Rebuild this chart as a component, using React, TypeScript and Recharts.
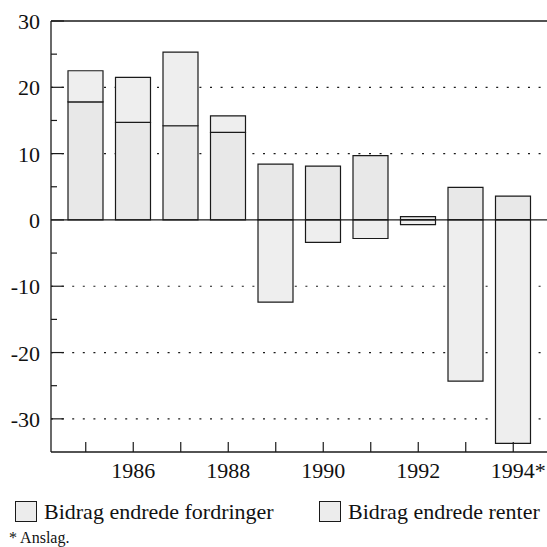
import { BarChart, Bar, XAxis, YAxis, CartesianGrid, ReferenceLine } from "recharts";

const YEARS = ["1985", "1986", "1987", "1988", "1989", "1990", "1991", "1992", "1993", "1994"];
const FORDRINGER = [17.8, 14.7, 14.2, 13.2, 8.4, 8.1, 9.7, 0.5, 4.9, 3.6];
const RENTER = [4.7, 6.8, 11.1, 2.5, -12.4, -3.4, -2.8, -0.7, -24.3, -33.7];
const X_LABELS: Record<string, string> = {
  "1986": "1986",
  "1988": "1988",
  "1990": "1990",
  "1992": "1992",
  "1994": "1994*",
};
const Y_TICKS = [30, 25, 20, 15, 10, 5, 0, -5, -10, -15, -20, -25, -30];
const GRID_VALUES = [20, 10, -10, -20, -30];
const SERIES_NAMES = ["Bidrag endrede fordringer", "Bidrag endrede renter"];

const FONT = '"Times New Roman", "Liberation Serif", Times, serif';
const INK = "#1a1a1a";

const data = YEARS.map((year, i) => ({
  year,
  fordringer: FORDRINGER[i],
  renter: RENTER[i],
}));

function YTick({ x, y, payload }: any) {
  const v = payload.value as number;
  const major = v % 10 === 0;
  return (
    <g>
      <line x1={x} x2={x + (major ? 13 : 6)} y1={y} y2={y} stroke={INK} strokeWidth={1.2} />
      {major && (
        <text x={x - 11} y={y + 8} textAnchor="end" fontFamily={FONT} fontSize={22} fill="#111">
          {v}
        </text>
      )}
    </g>
  );
}

function XTick({ x, y, payload }: any) {
  const label = X_LABELS[payload.value as string];
  return (
    <g>
      <line x1={x} x2={x} y1={y - 10} y2={y} stroke={INK} strokeWidth={1.2} />
      {label && (
        <text x={x + (label.endsWith("*") ? 5 : 0)} y={y + 26} textAnchor="middle" fontFamily={FONT} fontSize={22} fill="#111">
          {label}
        </text>
      )}
    </g>
  );
}

export default function App() {
  return (
    <div style={{ position: "absolute", left: 0, top: 0, width: 547, height: 547, background: "#fff" }}>
      <BarChart
        width={547}
        height={547}
        data={data}
        stackOffset="sign"
        margin={{ top: 21, right: 0, left: 0, bottom: 65 }}
        barSize={35}
      >
        <CartesianGrid
          vertical={false}
          horizontalValues={GRID_VALUES}
          stroke={INK}
          strokeDasharray="2 8.6"
          strokeWidth={1.2}
        />
        <XAxis
          dataKey="year"
          height={30}
          interval={0}
          padding={{ left: 11, right: 10 }}
          tickLine={false}
          tickSize={0}
          tickMargin={0}
          tick={<XTick />}
          axisLine={{ stroke: INK, strokeWidth: 1.3 }}
        />
        <YAxis
          width={51}
          domain={[-35, 30]}
          ticks={Y_TICKS}
          interval={0}
          tickLine={false}
          tickSize={0}
          tickMargin={0}
          tick={<YTick />}
          axisLine={{ stroke: INK, strokeWidth: 1.3 }}
        />
        <Bar
          dataKey="fordringer"
          name={SERIES_NAMES[0]}
          stackId="a"
          fill="#e8e8e8"
          stroke={INK}
          strokeWidth={1.2}
          isAnimationActive={false}
        />
        <Bar
          dataKey="renter"
          name={SERIES_NAMES[1]}
          stackId="a"
          fill="#eeeeee"
          stroke={INK}
          strokeWidth={1.2}
          isAnimationActive={false}
        />
        <ReferenceLine y={0} stroke={INK} strokeWidth={1.3} />
        <ReferenceLine y={30} stroke={INK} strokeWidth={1.3} />
      </BarChart>
      {SERIES_NAMES.map((name, i) => (
        <div
          key={name}
          style={{
            position: "absolute",
            left: i === 0 ? 15 : 319,
            top: 499,
            height: 25,
            display: "flex",
            alignItems: "center",
            fontFamily: FONT,
            fontSize: 22,
            lineHeight: "25px",
            color: "#111",
            whiteSpace: "nowrap",
          }}
        >
          <span
            style={{
              display: "inline-block",
              width: 20,
              height: 19,
              background: "#ececec",
              border: `1px solid ${INK}`,
              marginRight: 7,
            }}
          />
          {name}
        </div>
      ))}
      <div
        style={{
          position: "absolute",
          left: 9,
          top: 529,
          fontFamily: FONT,
          fontSize: 16,
          lineHeight: "18px",
          color: "#111",
        }}
      >
        * Anslag.
      </div>
    </div>
  );
}
